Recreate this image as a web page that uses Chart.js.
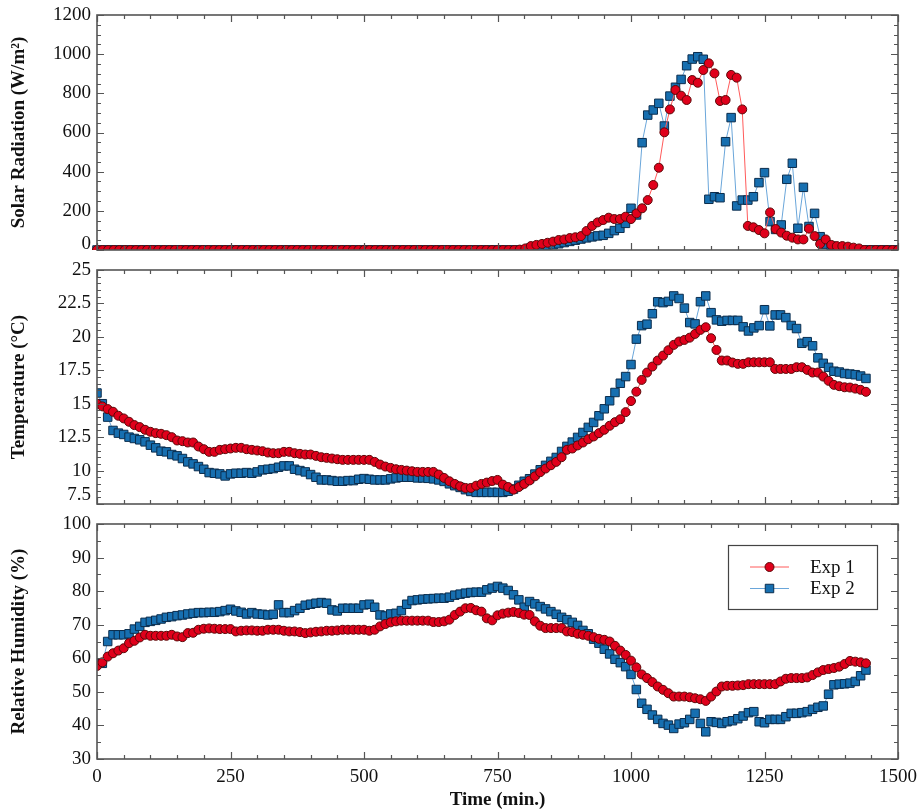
<!DOCTYPE html>
<html><head><meta charset="utf-8">
<script src="https://cdn.jsdelivr.net/npm/chart.js@4.4.0/dist/chart.umd.min.js"></script>
<style>
html,body{margin:0;padding:0;background:#fff;}
#wrap{position:relative;width:919px;height:811px;overflow:hidden;}
.panel{position:absolute;left:0;width:919px;}
canvas{display:block;}
</style></head><body>
<div id="wrap">
<div class="panel" style="top:0px"><canvas id="c1" width="919" height="261"></canvas></div>
<div class="panel" style="top:255px"><canvas id="c2" width="919" height="260"></canvas></div>
<div class="panel" style="top:509px"><canvas id="c3" width="919" height="302"></canvas></div>
</div>
<script>
// ---------------- DATA ----------------
const timeMin = [0,10,20,30,40,50,60,70,80,90,100,110,120,130,140,150,160,170,180,190,200,210,220,230,240,250,260,270,280,290,300,310,320,330,340,350,360,370,380,390,400,410,420,430,440,450,460,470,480,490,500,510,520,530,540,550,560,570,580,590,600,610,620,630,640,650,660,670,680,690,700,710,720,730,740,750,760,770,780,790,800,810,820,830,840,850,860,870,880,890,900,910,920,930,940,950,960,970,980,990,1000,1010,1020,1030,1040,1050,1060,1070,1080,1090,1100,1110,1120,1130,1140,1150,1160,1170,1180,1190,1200,1210,1220,1230,1240,1250,1260,1270,1280,1290,1300,1310,1320,1330,1340,1350,1360,1370,1380,1390,1400,1410,1420,1430,1440];

const solarTime = [0,10.4,20.8,31.3,41.7,52.1,62.5,72.9,83.3,93.8,104.2,114.6,125,135.4,145.8,156.3,166.7,177.1,187.5,197.9,208.3,218.8,229.2,239.6,
250,260.4,270.8,281.3,291.7,302.1,312.5,322.9,333.3,343.8,354.2,364.6,375,385.4,395.8,406.3,416.7,427.1,437.5,447.9,458.3,468.8,479.2,489.6,
500,510.4,520.8,531.3,541.7,552.1,562.5,572.9,583.3,593.8,604.2,614.6,625,635.4,645.8,656.3,666.7,677.1,687.5,697.9,708.3,718.8,729.2,739.6,
750,760.4,770.8,781.3,791.7,802.1,812.5,822.9,833.3,843.8,854.2,864.6,875,885.4,895.8,906.3,916.7,927.1,937.5,947.9,958.3,968.8,979.2,989.6,
1000,1010.4,1020.8,1031.3,1041.7,1052.1,1062.5,1072.9,1083.3,1093.8,1104.2,1114.6,1125,1135.4,1145.8,1156.3,1166.7,1177.1,1187.5,1197.9,1208.3,1218.8,1229.2,1239.6,
1250,1260.4,1270.8,1281.3,1291.7,1302.1,1312.5,1322.9,1333.3,1343.8,1354.2,1364.6,1375,1385.4,1395.8,1406.3,1416.7,1427.1,1437.5,1447.9,1458.3,1468.8,1479.2,1489.6,
1500];

const solarExp1 = [0,0,0,0,0,0,0,0,0,0, 0,0,0,0,0,0,0,0,0,0, 0,0,0,0,0,0,0,0,0,0, 0,0,0,0,0,0,0,0,0,0,
0,0,0,0,0,0,0,0,0,0, 0,0,0,0,0,0,0,0,0,0, 0,0,0,0,0,0,0,0,0,0,
0,0,0,0,0,0,2,8,20,26,
31,37,43,51,54,61,65,71,97,123,
141,153,165,158,158,170,158,187,213,255,
332,420,601,718,817,788,766,868,854,919,
953,902,761,766,894,880,718,123,116,102,
85,192,107,89,73,63,54,54,109,71,
31,54,26,20,20,17,12,8,0,0,
0,0,0,0,0];

const solarExp2 = [0,0,0,0,0,0,0,0,0,0, 0,0,0,0,0,0,0,0,0,0, 0,0,0,0,0,0,0,0,0,0, 0,0,0,0,0,0,0,0,0,0,
0,0,0,0,0,0,0,0,0,0, 0,0,0,0,0,0,0,0,0,0, 0,0,0,0,0,0,0,0,0,0,
0,0,0,0,0,0,0,0,10,14,
18,22,27,32,38,44,50,56,62,67,
72,75,85,99,111,136,213,179,548,689,
715,749,633,786,831,871,941,975,987,974,
259,272,267,553,676,225,255,255,272,344,
395,145,105,128,361,443,111,320,120,187,
68,30,20,12,8,4,0,0,0,0,
0,0,0,0,0];

const tempExp1 = [15.0,14.8,14.6,14.4,14.1,13.9,13.65,13.4,13.25,13.05,
12.9,12.8,12.75,12.65,12.5,12.25,12.2,12.1,12.1,11.8,
11.6,11.4,11.4,11.55,11.6,11.65,11.7,11.7,11.6,11.55,
11.5,11.45,11.35,11.3,11.3,11.4,11.4,11.3,11.25,11.2,
11.2,11.1,11.0,10.95,10.9,10.85,10.8,10.8,10.8,10.8,
10.8,10.8,10.65,10.45,10.3,10.2,10.1,10.05,10.0,9.95,
9.9,9.9,9.9,9.9,9.7,9.45,9.2,9.0,8.82,8.7,
8.7,8.87,9.0,9.1,9.22,9.3,8.95,8.77,8.57,8.77,
9.0,9.26,9.57,9.88,10.15,10.4,10.65,11.0,11.55,11.65,
11.88,12.1,12.35,12.55,12.8,13.05,13.35,13.62,13.84,14.37,
15.2,15.9,16.78,17.33,17.78,18.23,18.6,19.0,19.4,19.65,
19.77,19.94,20.22,20.52,20.72,19.9,19.02,18.23,18.23,18.08,
17.98,17.98,18.1,18.1,18.1,18.1,18.1,17.6,17.6,17.6,
17.6,17.73,17.73,17.53,17.33,17.33,17.03,16.71,16.41,16.31,
16.23,16.21,16.13,16.04,15.89];

const tempExp2 = [15.8,15.0,14.0,13.0,12.8,12.7,12.5,12.4,12.3,12.15,
11.9,11.7,11.45,11.4,11.2,11.1,10.9,10.65,10.5,10.3,
10.1,9.85,9.8,9.75,9.6,9.75,9.8,9.8,9.85,9.8,
9.9,10.05,10.1,10.15,10.25,10.35,10.35,10.1,10.0,9.9,
9.7,9.5,9.3,9.3,9.25,9.2,9.2,9.25,9.25,9.35,
9.4,9.35,9.3,9.3,9.3,9.38,9.45,9.5,9.5,9.5,
9.45,9.45,9.42,9.38,9.3,9.19,9.01,8.87,8.74,8.57,
8.44,8.37,8.37,8.37,8.37,8.37,8.37,8.45,8.62,8.9,
9.2,9.39,9.74,10.06,10.39,10.69,10.98,11.43,11.81,12.13,
12.48,12.85,13.23,13.6,14.1,14.62,15.22,15.84,16.53,17.03,
17.93,19.83,20.84,20.95,21.73,22.62,22.56,22.65,23.06,22.87,
22.15,21.07,20.97,22.63,23.06,21.81,21.27,21.17,21.23,21.23,
21.23,20.75,20.44,20.67,20.84,22.03,20.82,21.64,21.64,21.44,
20.85,20.62,19.52,19.64,19.33,18.43,18.02,17.72,17.43,17.37,
17.26,17.22,17.17,17.07,16.89];

const rhExp1 = [57.7,58.8,60.5,61.5,62.3,63.0,64.5,65.2,66.2,67.0,
66.7,66.7,66.7,66.7,67.0,66.5,66.3,67.5,67.6,68.5,
68.8,68.9,68.8,68.7,68.7,68.7,68.0,68.2,68.3,68.3,
68.2,68.2,68.5,68.5,68.5,68.2,68.0,68.0,67.8,67.5,
67.7,67.9,68.0,68.2,68.2,68.3,68.5,68.5,68.5,68.5,
68.5,68.2,68.5,69.5,70.2,70.7,71.0,71.2,71.2,71.2,
71.2,71.2,71.2,70.8,70.8,71.0,71.5,72.9,73.9,74.9,
75.0,74.3,73.9,71.9,71.3,72.8,73.3,73.6,73.8,73.5,
73.0,72.9,71.0,69.7,69.0,69.0,69.0,69.0,68.0,67.8,
67.3,67.0,66.7,66.3,65.8,65.5,65.0,63.7,62.3,61.0,
59.3,57.3,55.2,54.1,52.9,51.6,50.6,49.6,48.6,48.6,
48.6,48.4,48.1,47.8,47.3,48.6,50.1,51.6,51.8,51.8,
51.9,52.0,52.3,52.3,52.3,52.3,52.3,52.3,53.1,53.9,
54.1,54.1,54.1,54.3,55.0,55.8,56.5,56.8,57.1,57.5,
58.3,59.2,59.0,58.8,58.5];

const rhExp2 = [58.5,58.5,65.0,67.0,67.0,67.0,67.3,68.7,69.5,70.7,
71.0,71.3,71.7,72.2,72.4,72.7,72.9,73.2,73.4,73.6,
73.6,73.7,73.7,73.9,74.2,74.6,74.1,73.7,73.2,73.6,
73.2,73.1,72.9,73.1,75.9,73.6,73.6,74.2,74.9,75.8,
76.1,76.4,76.6,76.4,74.4,74.1,74.9,74.9,74.9,74.9,
75.9,76.1,75.2,72.9,72.6,73.2,73.4,74.2,76.1,77.2,
77.4,77.6,77.7,77.8,77.9,77.9,78.2,78.8,79.1,79.4,
79.6,79.7,79.7,80.4,80.9,81.4,80.9,80.2,78.9,77.4,
75.2,76.9,76.2,75.4,74.7,73.9,73.1,72.2,71.5,70.7,
69.8,68.3,67.3,65.7,64.5,62.7,61.3,59.7,58.7,57.5,
55.2,50.7,46.6,44.8,43.1,41.8,40.6,40.1,39.1,40.4,
40.8,41.8,43.6,40.6,38.1,41.1,40.9,40.6,41.1,41.4,
42.0,42.8,43.8,44.1,41.1,40.8,41.8,41.8,41.8,42.6,
43.6,43.6,43.8,44.1,44.8,45.4,45.8,49.3,52.1,52.3,
52.4,52.6,53.1,54.8,56.5];

const seriesNames = ['Exp 1', 'Exp 2'];
const xTicks = [0, 250, 500, 750, 1000, 1250, 1500];

// ---------------- STYLE ----------------
const SERIF = '"Liberation Serif", "Times New Roman", Times, serif';
Chart.defaults.font.family = SERIF;
const AXIS_COLOR = '#555';
const TEXT_COLOR = '#111';
const TICK_SIZE = 19;
const TITLE_SIZE = 19;
const RED = {fill: '#e0001b', border: '#5a0808', line: '#ff5a5a'};
const BLUE = {fill: '#176fb0', border: '#0b2d4d', line: '#6aa6da'};

function pairs(xs, ys) { return xs.map((x, i) => ({x: x, y: ys[i]})); }

function makeDatasets(xs, y1, y2, clip) {
  const base = {borderWidth: 1, tension: 0, pointBorderWidth: 1, pointHoverRadius: 4.5};
  const d1 = Object.assign({}, base, {
    label: seriesNames[0], data: pairs(xs, y1),
    borderColor: RED.line, pointStyle: 'circle', pointRadius: 4.5,
    pointBackgroundColor: RED.fill, pointBorderColor: RED.border
  });
  const d2 = Object.assign({}, base, {
    label: seriesNames[1], data: pairs(xs, y2),
    borderColor: BLUE.line, pointStyle: 'rect', pointRadius: 6,
    pointBackgroundColor: BLUE.fill, pointBorderColor: BLUE.border
  });
  if (clip) { d1.clip = clip; d2.clip = clip; }
  return [d1, d2];
}

const frameTicks = {
  id: 'frameTicks',
  afterDatasetsDraw(chart, args, o) {
    const ctx = chart.ctx, a = chart.chartArea;
    const xs = chart.scales.x, ys = chart.scales.y;
    ctx.save();
    ctx.strokeStyle = AXIS_COLOR;
    ctx.lineWidth = 1.2;
    ctx.beginPath();
    const marks = (scale, step, len, horiz) => {
      const n = Math.round((scale.max - scale.min) / step);
      for (let k = 0; k <= n; k++) {
        const v = scale.min + k * step;
        const p = Math.round(scale.getPixelForValue(v)) + 0.5;
        if (horiz) {
          ctx.moveTo(p, a.bottom); ctx.lineTo(p, a.bottom - len);
          ctx.moveTo(p, a.top); ctx.lineTo(p, a.top + len);
        } else {
          ctx.moveTo(a.left, p); ctx.lineTo(a.left + len, p);
          ctx.moveTo(a.right, p); ctx.lineTo(a.right - len, p);
        }
      }
    };
    marks(xs, o.xMinor, 4, true); marks(xs, o.xMajor, 7, true);
    marks(ys, o.yMinor, 4, false); marks(ys, o.yMajor, 7, false);
    ctx.stroke();
    ctx.lineWidth = 1.6;
    ctx.strokeRect(a.left, a.top, a.right - a.left, a.bottom - a.top);
    if (o.minShift) {
      ctx.fillStyle = TEXT_COLOR;
      ctx.font = TICK_SIZE + 'px ' + SERIF;
      ctx.textAlign = 'right';
      ctx.textBaseline = 'middle';
      ctx.fillText(String(ys.min), a.left - 6, ys.getPixelForValue(ys.min) - o.minShift);
    }
    ctx.restore();
  }
};

const boxLegend = {
  id: 'boxLegend',
  afterDraw(chart, args, o) {
    if (!o.show) return;
    const ctx = chart.ctx, a = chart.chartArea;
    ctx.save();
    const bx = a.right - 170, by = a.top + 21, bw = 149, bh = 64;
    ctx.fillStyle = '#fff';
    ctx.fillRect(bx, by, bw, bh);
    ctx.strokeStyle = '#444';
    ctx.lineWidth = 1.2;
    ctx.strokeRect(bx + 0.5, by + 0.5, bw, bh);
    chart.data.datasets.forEach((ds, i) => {
      const y = by + 22 + i * 21.5;
      const x0 = bx + 22, x1 = bx + 61, xm = (x0 + x1) / 2;
      ctx.strokeStyle = ds.borderColor; ctx.lineWidth = 1;
      ctx.beginPath(); ctx.moveTo(x0, y); ctx.lineTo(x1, y); ctx.stroke();
      ctx.fillStyle = ds.pointBackgroundColor; ctx.strokeStyle = ds.pointBorderColor; ctx.lineWidth = 1;
      Chart.helpers.drawPoint(ctx, {pointStyle: ds.pointStyle, radius: ds.pointRadius, rotation: 0, borderWidth: 1}, xm, y);
      ctx.fillStyle = TEXT_COLOR;
      ctx.font = TICK_SIZE + 'px ' + SERIF;
      ctx.textAlign = 'left'; ctx.textBaseline = 'middle';
      ctx.fillText(ds.label, bx + 82, y + 1);
    });
    ctx.restore();
  }
};

function makeChart(id, datasets, cfg) {
  const showX = !!cfg.showX;
  return new Chart(document.getElementById(id), {
    type: 'line',
    data: {datasets: datasets},
    plugins: [frameTicks, boxLegend],
    options: {
      responsive: false, animation: false, devicePixelRatio: 1,
      layout: {padding: {left: 0, right: 21, top: 15, bottom: showX ? 0 : 11}},
      plugins: {
        legend: {display: false}, tooltip: {enabled: false},
        frameTicks: {xMajor: 250, xMinor: 50, yMajor: cfg.yMajor, yMinor: cfg.yMinor, minShift: cfg.minShift || 0},
        boxLegend: {show: !!cfg.legend}
      },
      scales: {
        x: {
          type: 'linear', min: 0, max: 1500,
          grid: {display: false, drawTicks: false}, border: {display: false},
          afterBuildTicks: (s) => { s.ticks = xTicks.map(v => ({value: v})); },
          ticks: {display: showX, autoSkip: false, maxRotation: 0, padding: 7,
                  color: TEXT_COLOR, font: {size: TICK_SIZE}, callback: (v) => String(v)},
          title: {display: showX, text: 'Time (min.)', color: TEXT_COLOR,
                  font: {size: TITLE_SIZE, weight: 'bold'}, padding: {top: 0, bottom: 0}},
          afterFit: (s) => { s.height = showX ? 52 : 0; s.paddingLeft = 0; s.paddingRight = 0; }
        },
        y: {
          type: 'linear', min: cfg.yMin, max: cfg.yMax,
          grid: {display: false, drawTicks: false}, border: {display: false},
          ticks: {stepSize: cfg.yMajor, padding: 6, color: TEXT_COLOR, font: {size: TICK_SIZE},
                  callback: (v) => (cfg.minShift && v === cfg.yMin) ? '' : String(v)},
          title: {display: true, text: cfg.title, color: TEXT_COLOR,
                  font: {size: TITLE_SIZE, weight: 'bold'}, padding: {top: 8, bottom: 0}},
          afterFit: (s) => { s.width = 97; s.paddingTop = 0; s.paddingBottom = 0; }
        }
      }
    }
  });
}

makeChart('c1', makeDatasets(solarTime, solarExp1, solarExp2, {left: 10, top: 10, right: 0, bottom: 0}),
  {yMin: 0, yMax: 1200, yMajor: 200, yMinor: 50, minShift: 6, title: 'Solar Radiation (W/m²)'});
makeChart('c2', makeDatasets(timeMin, tempExp1, tempExp2),
  {yMin: 7.5, yMax: 25, yMajor: 2.5, yMinor: 0.5, minShift: 9, title: 'Temperature (°C)'});
makeChart('c3', makeDatasets(timeMin, rhExp1, rhExp2),
  {yMin: 30, yMax: 100, yMajor: 10, yMinor: 5, title: 'Relative Humidity (%)', showX: true, legend: true});
</script>
</body></html>
